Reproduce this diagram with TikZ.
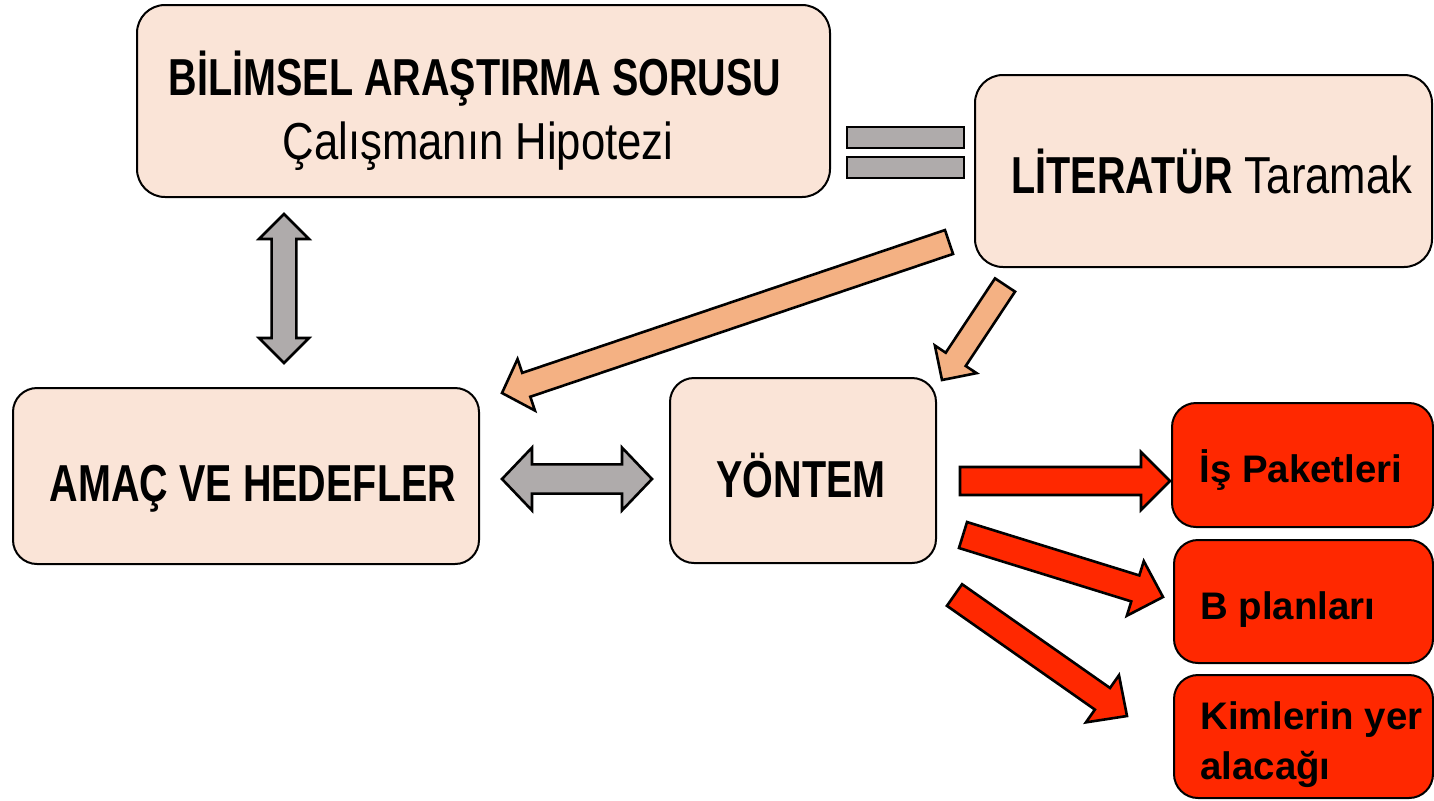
\documentclass[tikz,border=0pt]{standalone}
\usepackage{fontspec}
\setmainfont{Liberation Sans}
\newfontfamily\condfont[FakeStretch=0.76]{Liberation Sans}
\newfontfamily\condreg[FakeStretch=0.84]{Liberation Sans}
\usetikzlibrary{calc}
\definecolor{peach}{HTML}{FAE4D7}
\definecolor{orangearr}{HTML}{F4B183}
\definecolor{greyarr}{HTML}{AFABAB}
\definecolor{redbox}{HTML}{FF2800}
\tikzset{
  peachbox/.style={draw=black, line width=1pt, fill=peach, rounded corners=14pt, inner sep=0pt},
  redbx/.style={draw=black, line width=1pt, fill=redbox, rounded corners=12pt, inner sep=0pt},
  redtxt/.style={font=\fontsize{19.2}{25}\selectfont\bfseries, align=left, inner sep=0pt},
  condtxt/.style={font=\condfont\fontsize{26}{32.5}\selectfont, align=center, inner sep=0pt},
  greyfat/.style={draw=black, line width=1.3pt, fill=greyarr, line join=miter},
  orangefat/.style={draw=black, line width=1.3pt, fill=orangearr, line join=miter},
  redfat/.style={draw=black, line width=1.3pt, fill=redbox, line join=miter}
}
\newcommand\blockarrow[6]{%
  \coordinate (H) at ($(#3)!#6!(#2)$);
  \draw[#1] ($(#2)!#4!90:(#3)$) -- ($(H)!#4!90:(#3)$) -- ($(H)!#5!90:(#3)$) -- (#3)
    -- ($(H)!#5!-90:(#3)$) -- ($(H)!#4!-90:(#3)$) -- ($(#2)!#4!-90:(#3)$) -- cycle;}
\newcommand\dblarrow[6]{%
  \coordinate (H1) at ($(#2)!#6!(#3)$);
  \coordinate (H2) at ($(#3)!#6!(#2)$);
  \draw[#1] (#2) -- ($(H1)!#5!90:(#3)$) -- ($(H1)!#4!90:(#3)$) -- ($(H2)!#4!-90:(#2)$)
    -- ($(H2)!#5!-90:(#2)$) -- (#3) -- ($(H2)!#5!90:(#2)$) -- ($(H2)!#4!90:(#2)$)
    -- ($(H1)!#4!-90:(#3)$) -- ($(H1)!#5!-90:(#3)$) -- cycle;}
\begin{document}
\begin{tikzpicture}[x=0.5pt, y=-0.5pt]
\useasboundingbox (0,0) rectangle (1434,800);
% boxes
\node[peachbox, minimum width=346.5pt, minimum height=96pt] (soru) at (483.5,101) {};
\node[condtxt, anchor=base] (sorutxt1) at (475,95) {\bfseries BİLİMSEL ARAŞTIRMA SORUSU};
\node[condtxt, anchor=base] (sorutxt2) at (478,159) {\condreg Çalışmanın Hipotezi};
\node[peachbox, minimum width=228.5pt, minimum height=96pt] (lit) at (1203.5,171) {};
\node[condtxt, anchor=base] (littxt) at (1212,193) {\bfseries LİTERATÜR\mdseries\condreg{} Taramak};
\node[peachbox, rounded corners=12pt, minimum width=233pt, minimum height=88pt] (amac) at (246,476) {};
\node[condtxt, anchor=base] (amactxt) at (253,501) {\bfseries AMAÇ VE HEDEFLER};
\node[peachbox, rounded corners=12pt, minimum width=133pt, minimum height=92.5pt] (yontem) at (803,470.5) {};
\node[condtxt, anchor=base] (yontemtxt) at (801,497) {\bfseries YÖNTEM};
% red boxes
\node[redbx, minimum width=130.5pt, minimum height=62pt] (r1) at (1302.5,465) {};
\node[redtxt, anchor=base west] (r1t) at (1199,482) {İş Paketleri};
\node[redbx, minimum width=129.5pt, minimum height=61.5pt] (r2) at (1303.5,601.5) {};
\node[redtxt, anchor=base west] (r2t) at (1200,619) {B planları};
\node[redbx, minimum width=129.5pt, minimum height=61.5pt] (r3) at (1303.5,736.5) {};
\node[redtxt, anchor=base west] (r3t) at (1200,779) {Kimlerin yer\\alacağı};
% equal sign between soru and lit
\draw[greyfat] (847,127) rectangle (964,148);
\draw[greyfat] (847,157) rectangle (964,178);
% grey double arrows
\coordinate (v1) at (284,214); \coordinate (v2) at (284,363);
\dblarrow{greyfat}{v1}{v2}{6.2pt}{12.5pt}{12.5pt}
\coordinate (h1) at (502,479); \coordinate (h2) at (652,479);
\dblarrow{greyfat}{h1}{h2}{7.3pt}{15.7pt}{15pt}
% orange arrows
\coordinate (o1a) at (949,242); \coordinate (o1b) at (502,393);
\blockarrow{orangefat}{o1a}{o1b}{6.3pt}{13.6pt}{12.8pt}
\coordinate (o2a) at (1005,285); \coordinate (o2b) at (942,380);
\blockarrow{orangefat}{o2a}{o2b}{6pt}{12.5pt}{12.4pt}
% red arrows
\coordinate (ra1) at (960,481); \coordinate (rb1) at (1170,481);
\blockarrow{redfat}{ra1}{rb1}{7pt}{14.5pt}{14.5pt}
\coordinate (ra2) at (963,535); \coordinate (rb2) at (1163,597);
\blockarrow{redfat}{ra2}{rb2}{6.8pt}{14.3pt}{14.5pt}
\coordinate (ra3) at (954.5,595); \coordinate (rb3) at (1127,716);
\blockarrow{redfat}{ra3}{rb3}{6.6pt}{14.4pt}{15pt}
\end{tikzpicture}
\end{document}
